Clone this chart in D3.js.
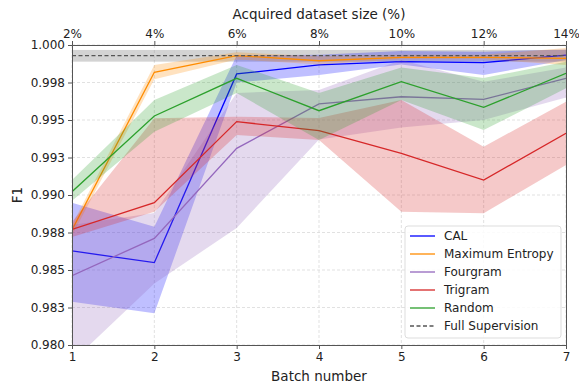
<!DOCTYPE html>
<html>
<head>
<meta charset="utf-8">
<script src="https://cdn.jsdelivr.net/npm/d3@7"></script>
<style>
  body { margin: 0; background: #fff; }
  text { font-family: "DejaVu Sans", sans-serif; fill: #222; }
</style>
</head>
<body>
<div id="chart"></div>
<script>
const batches = [1, 2, 3, 4, 5, 6, 7];
const pctLabels = ["2%", "4%", "6%", "8%", "10%", "12%", "14%"];
const yTicks = [0.98, 0.9825, 0.985, 0.9875, 0.99, 0.9925, 0.995, 0.9975, 1.0];
const yTickLabels = ["0.980", "0.983", "0.985", "0.988", "0.990", "0.993", "0.995", "0.998", "1.000"];

const calMean = [0.98627, 0.98549, 0.99807, 0.99867, 0.99889, 0.99882, 0.99933];
const calLow  = [0.98289, 0.98211, 0.99750, 0.99800, 0.99870, 0.99800, 0.99900];
const calHigh = [0.98949, 0.98789, 0.99930, 0.99935, 0.99960, 0.99955, 0.99970];

const entMean = [0.98767, 0.99818, 0.99929, 0.99895, 0.99918, 0.99918, 0.99911];
const entLow  = [0.98730, 0.99771, 0.99904, 0.99870, 0.99905, 0.99905, 0.99867];
const entHigh = [0.98800, 0.99867, 0.99951, 0.99925, 0.99935, 0.99935, 0.99980];

const fourMean = [0.98462, 0.98711, 0.99311, 0.99607, 0.99655, 0.99638, 0.99778];
const fourLow  = [0.97889, 0.98410, 0.98780, 0.99370, 0.99450, 0.99500, 0.99650];
const fourHigh = [0.98800, 0.98880, 0.99680, 0.99700, 0.99900, 0.99755, 0.99850];

const triMean = [0.98771, 0.98949, 0.99489, 0.99429, 0.99278, 0.99100, 0.99411];
const triLow  = [0.98720, 0.98889, 0.99400, 0.99367, 0.98889, 0.98878, 0.99200];
const triHigh = [0.98820, 0.99511, 0.99522, 0.99513, 0.99633, 0.99322, 0.99622];

const rndMean = [0.99022, 0.99527, 0.99778, 0.99562, 0.99755, 0.99584, 0.99811];
const rndLow  = [0.98962, 0.99422, 0.99680, 0.99367, 0.99633, 0.99433, 0.99711];
const rndHigh = [0.99100, 0.99633, 0.99867, 0.99680, 0.99850, 0.99780, 0.99889];

const fullSup = 0.99929;
const fullSupLow = 0.99889;
const fullSupHigh = 0.99967;

const series = [
  { name: "CAL", color: "#0000ff", mean: calMean, low: calLow, high: calHigh },
  { name: "Maximum Entropy", color: "#ff8c00", mean: entMean, low: entLow, high: entHigh },
  { name: "Fourgram", color: "#9467bd", mean: fourMean, low: fourLow, high: fourHigh },
  { name: "Trigram", color: "#d62728", mean: triMean, low: triLow, high: triHigh },
  { name: "Random", color: "#2ca02c", mean: rndMean, low: rndLow, high: rndHigh }
];

const W = 579, H = 389;
const margin = { top: 45, right: 13, bottom: 44, left: 72 };
const width = W - margin.left - margin.right;
const height = H - margin.top - margin.bottom;

const svg = d3.select("#chart").append("svg")
  .attr("width", W).attr("height", H);

const g = svg.append("g")
  .attr("transform", `translate(${margin.left},${margin.top})`);

const x = d3.scaleLinear().domain([1, 7]).range([0, width]);
const y = d3.scaleLinear().domain([0.98, 1.0]).range([height, 0]);

g.append("defs").append("clipPath").attr("id", "clip")
  .append("rect").attr("width", width).attr("height", height);

// grid
g.append("g").selectAll("line").data(batches).join("line")
  .attr("x1", d => x(d)).attr("x2", d => x(d))
  .attr("y1", 0).attr("y2", height)
  .attr("stroke", "#d9d9d9").attr("stroke-dasharray", "3,2").attr("stroke-width", 0.8);
g.append("g").selectAll("line").data(yTicks).join("line")
  .attr("x1", 0).attr("x2", width)
  .attr("y1", d => y(d)).attr("y2", d => y(d))
  .attr("stroke", "#d9d9d9").attr("stroke-dasharray", "3,2").attr("stroke-width", 0.8);

const plot = g.append("g").attr("clip-path", "url(#clip)");

// full supervision band
plot.append("rect")
  .attr("x", 0).attr("width", width)
  .attr("y", y(fullSupHigh)).attr("height", y(fullSupLow) - y(fullSupHigh))
  .attr("fill", "#808080").attr("opacity", 0.35);

const area = d3.area()
  .x((d, i) => x(batches[i]))
  .y0(d => y(d[0]))
  .y1(d => y(d[1]));

const line = d3.line()
  .x((d, i) => x(batches[i]))
  .y(d => y(d));

series.forEach(s => {
  plot.append("path")
    .datum(s.low.map((v, i) => [v, s.high[i]]))
    .attr("d", area)
    .attr("fill", s.color)
    .attr("opacity", 0.25);
  plot.append("path")
    .datum(s.mean)
    .attr("d", line)
    .attr("fill", "none")
    .attr("stroke", s.color)
    .attr("stroke-width", 1.3);
});

plot.append("line")
  .attr("x1", 0).attr("x2", width)
  .attr("y1", y(fullSup)).attr("y2", y(fullSup))
  .attr("stroke", "#555").attr("stroke-width", 1.2).attr("stroke-dasharray", "4,2.5");

// axes
const styleAxis = sel => {
  sel.selectAll("path").attr("stroke", "#555");
  sel.selectAll("line").attr("stroke", "#555");
  sel.selectAll("text").style("font-size", "12px").style("font-family", "DejaVu Sans").attr("fill", "#222");
};

g.append("g").attr("transform", `translate(0,${height})`)
  .call(d3.axisBottom(x).tickValues(batches).tickFormat(d3.format("d")).tickSizeOuter(0).tickSize(4).tickPadding(3))
  .call(styleAxis);

g.append("g")
  .call(d3.axisTop(x).tickValues(batches).tickFormat((d, i) => pctLabels[i]).tickSizeOuter(0).tickSize(4).tickPadding(3))
  .call(styleAxis);

g.append("g")
  .call(d3.axisLeft(y).tickValues(yTicks).tickFormat((d, i) => yTickLabels[i]).tickSizeOuter(0).tickSize(4).tickPadding(3))
  .call(styleAxis);

g.append("g").attr("transform", `translate(${width},0)`)
  .call(d3.axisRight(y).tickValues([]).tickSizeOuter(0))
  .call(styleAxis);

// labels
svg.append("text")
  .attr("x", margin.left + width / 2).attr("y", 19)
  .attr("text-anchor", "middle").style("font-size", "13.5px")
  .text("Acquired dataset size (%)");

svg.append("text")
  .attr("x", margin.left + width / 2).attr("y", 381)
  .attr("text-anchor", "middle").style("font-size", "13.5px")
  .text("Batch number");

svg.append("text")
  .attr("transform", `translate(22,${margin.top + height / 2}) rotate(-90)`)
  .attr("text-anchor", "middle").style("font-size", "13.5px")
  .text("F1");

// legend
const legendItems = series.map(s => ({ name: s.name, color: s.color, dash: null }))
  .concat([{ name: "Full Supervision", color: "#555", dash: "4,2.5" }]);

const legend = svg.append("g").attr("transform", "translate(405,226)");
legend.append("rect")
  .attr("width", 156).attr("height", 112).attr("rx", 3)
  .attr("fill", "#fff").attr("fill-opacity", 0.85)
  .attr("stroke", "#ddd");

const rows = legend.selectAll("g.row").data(legendItems).join("g")
  .attr("transform", (d, i) => `translate(0,${10 + i * 18})`);
rows.append("line")
  .attr("x1", 5).attr("x2", 30)
  .attr("stroke", d => d.color).attr("stroke-width", 1.3)
  .attr("stroke-dasharray", d => d.dash);
rows.append("text")
  .attr("x", 39).attr("dy", "0.35em")
  .style("font-size", "12px")
  .text(d => d.name);
</script>
</body>
</html>
